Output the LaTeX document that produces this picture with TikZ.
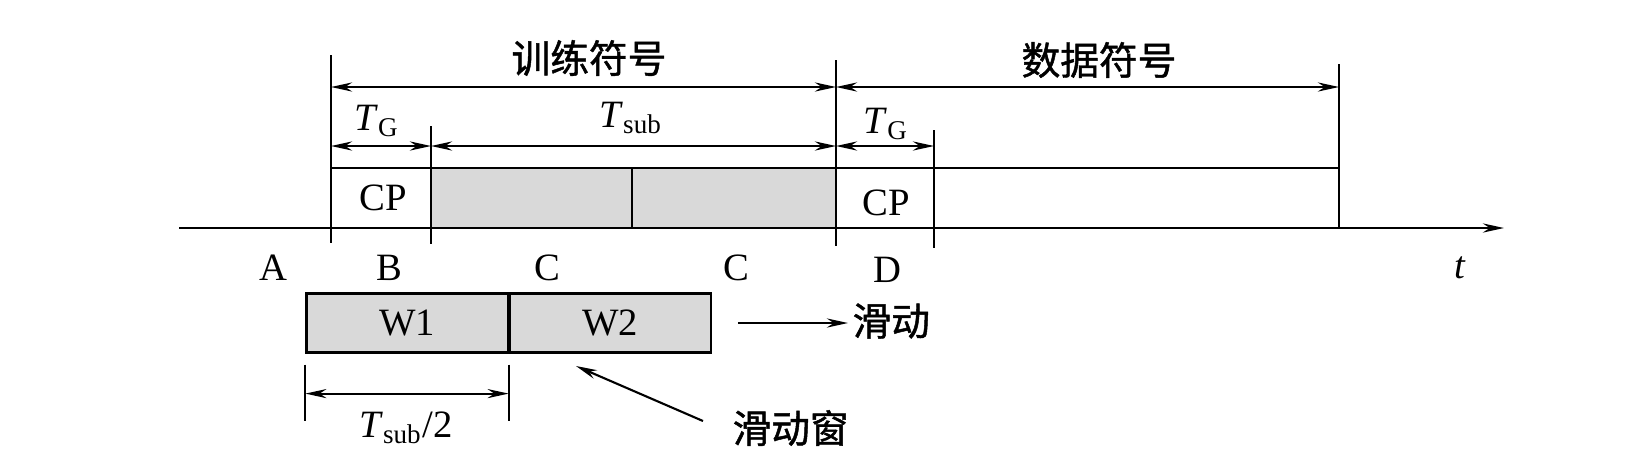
\documentclass[tikz,border=0pt]{standalone}
\usepackage{fontspec}
\setmainfont{Liberation Serif}
\newfontfamily\cjk{Noto Sans CJK SC}[FakeBold=1.2]
\usetikzlibrary{arrows.meta}

\begin{document}
\begin{tikzpicture}[x=0.01cm, y=-0.01cm, line width=0.6pt,
        dim/.style={{Stealth[length=6pt, width=2.6pt]}-{Stealth[length=6pt, width=2.6pt]}},
        arr/.style={-{Stealth[length=6pt, width=2.6pt]}},
        lbl/.style={font=\fontsize{11}{13}\selectfont, inner sep=1pt},
        cjklbl/.style={font=\cjk\fontsize{11}{13}\selectfont, inner sep=1pt},
        win/.style={draw, fill=gray!30, minimum width=2.01cm, minimum height=0.59cm, inner sep=0pt,
            font=\fontsize{11}{13}\selectfont}]
            \useasboundingbox (0,0) rectangle (1649,466);
            % rows
            \coordinate (r1) at (0,87);
            \coordinate (r2) at (0,146);
            \coordinate (r3) at (0,168);
            \coordinate (r4) at (0,228);
            % ticks on the time axis
            \coordinate (B0) at (331,55);   \coordinate (B1) at (331,243);
            \coordinate (C0) at (431,126);  \coordinate (C1) at (431,244);
            \coordinate (M0) at (632,168);  \coordinate (M1) at (632,228);
            \coordinate (D0) at (836,60);   \coordinate (D1) at (836,246);
            \coordinate (E0) at (934,130);  \coordinate (E1) at (934,248);
            \coordinate (F0) at (1339,64);  \coordinate (F1) at (1339,228);
            \coordinate (O) at (179,228);
            \coordinate (T) at (1504,228);
            % training symbol
            \fill[gray!30] (C0|-r3) rectangle (D1|-r4);
            \draw (B0|-r3) -- (F0|-r3);
            \draw (M0) -- (M1);
            \draw[arr, line width=0.7pt] (O) -- (T);
            \draw (B0) -- (B1);
            \draw (C0) -- (C1);
            \draw (D0) -- (D1);
            \draw (E0) -- (E1);
            \draw (F0) -- (F1);
            \draw[dim] (B0|-r1) -- (D0|-r1);
            \draw[dim] (D0|-r1) -- (F0|-r1);
            \draw[dim] (B0|-r2) -- (C0|-r2);
            \draw[dim] (C0|-r2) -- (D0|-r2);
            \draw[dim] (D0|-r2) -- (E0|-r2);
            \node[cjklbl] (train) at (589,58) {训练符号};
            \node[cjklbl] (data) at (1099,60) {数据符号};
            \node[lbl] (tg1) at (377,121) {\textit{T}\textsubscript{G}};
            \node[lbl] (tsub) at (631,118) {\textit{T}\textsubscript{sub}};
            \node[lbl] (tg2) at (886,124) {\textit{T}\textsubscript{G}};
            \node[lbl] (cp1) at (383,198) {CP};
            \node[lbl] (cp2) at (886,203) {CP};
            \node[lbl] (la) at (273,268) {A};
            \node[lbl] (lb) at (389,268) {B};
            \node[lbl] (lc1) at (547,268) {C};
            \node[lbl] (lc2) at (736,268) {C};
            \node[lbl] (ld) at (887,270) {D};
            \node[lbl] (lt) at (1460,268) {\textit{t}};
            % sliding window
            \node[win] (W1) at (407,323) {W1};
            \node[win, anchor=west] (W2) at (W1.east) {W2};
            \node[cjklbl, anchor=west] (slide) at (848,321) {滑动};
            \draw[arr] ([xshift=0.26cm]W2.east) -- (slide.west|-W2.east);
            \coordinate (S0) at (W1.south west);
            \coordinate (S1) at (W1.south east);
            \draw ([yshift=-0.11cm]S0) -- ([yshift=-0.67cm]S0);
            \draw ([yshift=-0.11cm]S1) -- ([yshift=-0.67cm]S1);
            \draw[dim] ([yshift=-0.40cm]S0) -- ([yshift=-0.40cm]S1);
            \node[lbl] (thalf) at (406,428) {\textit{T}\textsubscript{sub}/2};
            \node[cjklbl, anchor=west] (swin) at (728,428) {滑动窗};
            \coordinate (G) at (703,421);
            \coordinate (H) at (576,366);
            \draw[arr] (G) -- (H);
\end{tikzpicture}
\end{document}
